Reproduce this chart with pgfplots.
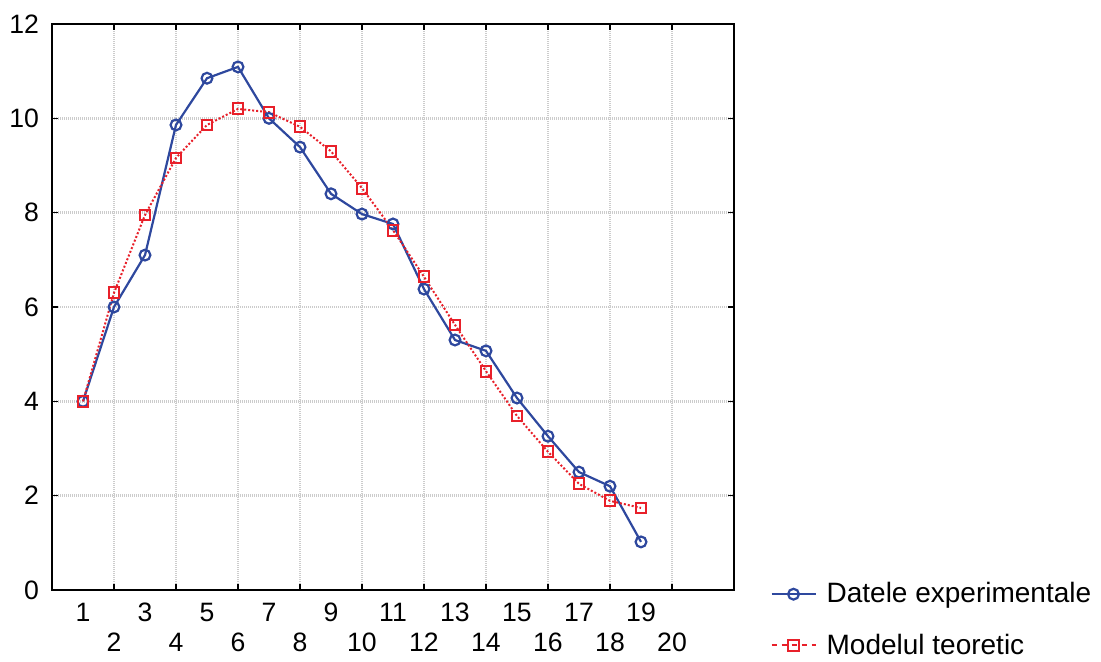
\documentclass[border=0pt]{standalone}
\usepackage{pgfplots}
\pgfplotsset{compat=1.18}
\usepackage{fontspec}
\setmainfont{Liberation Sans}
\definecolor{expblue}{RGB}{46,72,158}
\definecolor{modred}{RGB}{232,32,42}
\begin{document}
\begin{tikzpicture}
\clip (0,-4pt) rectangle (550.5pt,327pt);
\begin{axis}[
    scale only axis,
    width=341pt, height=283pt,
    at={(26pt,32pt)}, anchor=south west,
    xmin=0, xmax=22,
    ymin=0, ymax=12,
    ytick={0,2,...,12},
    xtick={1,3,...,19},
    xtick style={draw=none},
    xticklabel style={yshift=-3pt},
    yticklabel style={xshift=-3pt},
    extra x ticks={2,4,...,20},
    extra x tick style={
        xmajorgrids=true,
        xtick style={draw=black},
        xticklabel style={yshift=-15pt},
    },
    tick align=inside,
    major tick length=3pt,
    ymajorgrids=true,
    grid style={gray!40, dash pattern=on 0.6pt off 0.4pt, line width=1.2pt},
    axis line style={line width=1pt},
    tick style={line width=0.8pt, black},
    tick label style={font=\fontsize{13.3}{15}\selectfont},
    /pgf/number format/assume math mode=true,
    legend style={
        at={(1.044,0.028)}, anchor=north west,
        draw=none, fill=none,
        font=\fontsize{14}{16}\selectfont,
        row sep=10pt,
        column sep=3pt,
        legend cell align=left,
    },
    legend image code/.code={
        \draw[mark repeat=2,mark phase=2,#1]
            plot coordinates {(0pt,0pt) (11pt,0pt) (22pt,0pt)};
    },
]
\addplot[
    forget plot,
    color=expblue,
    line width=1.1pt,
    mark=o,
    mark size=2.7pt,
    mark options={fill=white, solid},
    ]
    coordinates {
    (1,4.0)(2,6.0)(3,7.1)(4,9.86)(5,10.85)(6,11.09)(7,10.0)(8,9.39)(9,8.4)(10,7.97)
    (11,7.76)(12,6.38)(13,5.3)(14,5.07)(15,4.07)(16,3.26)(17,2.5)(18,2.2)(19,1.02)
    };
\addplot[
    forget plot,
    color=modred,
    line width=1pt,
    densely dotted,
    mark=square,
    mark size=2.7pt,
    mark options={fill=white, solid},
    ]
    coordinates {
    (1,4.0)(2,6.3)(3,7.95)(4,9.16)(5,9.86)(6,10.2)(7,10.13)(8,9.82)(9,9.3)(10,8.52)
    (11,7.63)(12,6.64)(13,5.62)(14,4.64)(15,3.69)(16,2.93)(17,2.25)(18,1.89)(19,1.74)
    };
\addlegendimage{color=expblue, line width=1.1pt, mark=o, mark size=2.7pt, mark options={fill=white, solid}}
\addlegendentry{Datele experimentale}
\addlegendimage{color=modred, line width=1pt, dash pattern=on 2.5pt off 2.5pt, mark=square, mark size=2.7pt, mark options={fill=white, solid}}
\addlegendentry{Modelul teoretic}
\end{axis}
\end{tikzpicture}
\end{document}
